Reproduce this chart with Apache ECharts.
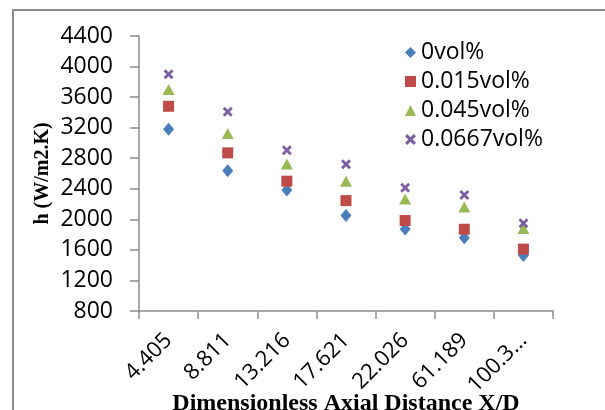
<!DOCTYPE html>
<html>
<head>
<meta charset="utf-8">
<script src="https://cdn.jsdelivr.net/npm/echarts@6/dist/echarts.min.js"></script>
<style>html,body{margin:0;padding:0;background:#fff;}#c{width:605px;height:410px;}</style>
</head>
<body>
<div id="c"></div>
<script>
var categories = ['4.405', '8.811', '13.216', '17.621', '22.026', '61.189', '100.3…'];
var seriesNames = ['0vol%', '0.015vol%', '0.045vol%', '0.0667vol%'];
var vol0 = [3180, 2635, 2385, 2050, 1875, 1760, 1525];
var vol015 = [3480, 2870, 2500, 2245, 1985, 1870, 1610];
var vol045 = [3700, 3125, 2725, 2500, 2265, 2160, 1880];
var vol0667 = [3900, 3410, 2905, 2720, 2415, 2320, 1950];
var yTicks = [800, 1200, 1600, 2000, 2400, 2800, 3200, 3600, 4000, 4400];

var crossPath = 'path://M0,2 L2,0 L5,3 L8,0 L10,2 L7,5 L10,8 L8,10 L5,7 L2,10 L0,8 L3,5 Z';
var colors = ['#4A7EBB', '#BE4B48', '#98B954', '#7D5FA0'];
var symbols = ['diamond', 'rect', 'triangle', crossPath];
var sizes = [[11, 13], [11, 11], [12, 11], [10, 10]];
var dataSets = [vol0, vol015, vol045, vol0667];

var chart = echarts.init(document.getElementById('c'), null, {renderer: 'canvas'});
var series = seriesNames.map(function (n, i) {
  return {
    name: n,
    type: 'scatter',
    data: dataSets[i],
    symbol: symbols[i],
    symbolSize: sizes[i],
    itemStyle: {color: colors[i], opacity: 1},
    emphasis: {disabled: true}
  };
});

chart.setOption({
  animation: false,
  backgroundColor: '#fff',
  textStyle: {fontFamily: 'Open Sans'},
  graphic: [{
    type: 'rect',
    shape: {x: 13, y: 10, width: 620, height: 420},
    style: {fill: 'none', stroke: '#8c8c8c', lineWidth: 2},
    silent: true
  }],
  grid: {left: 139, top: 36, right: 52, bottom: 99, containLabel: false, outerBoundsMode: 'none'},
  legend: {
    orient: 'vertical',
    left: 400,
    top: 36,
    itemWidth: 11,
    itemHeight: 11,
    itemGap: 6,
    textStyle: {fontFamily: 'Open Sans', fontSize: 23, color: '#000', lineHeight: 23},
    data: seriesNames.map(function (n, i) {
      return {name: n, icon: symbols[i]};
    })
  },
  xAxis: {
    type: 'category',
    data: categories,
    name: 'Dimensionless Axial Distance X/D',
    nameLocation: 'middle',
    nameGap: 81,
    nameMoveOverlap: false,
    nameTextStyle: {fontFamily: 'Liberation Serif', fontWeight: 'bold', fontSize: 24, color: '#000', verticalAlign: 'top'},
    axisLine: {lineStyle: {color: '#8c8c8c', width: 1.5}},
    axisTick: {show: true, length: 8, alignWithLabel: false, lineStyle: {color: '#8c8c8c', width: 1.5}},
    axisLabel: {rotate: 45, fontSize: 22, color: '#000', margin: 26, interval: 0, fontFamily: 'Open Sans'},
    splitLine: {show: false}
  },
  yAxis: {
    type: 'value',
    min: yTicks[0],
    max: yTicks[yTicks.length - 1],
    interval: 400,
    name: 'h (W/m2.K)',
    nameLocation: 'middle',
    nameRotate: 90,
    nameGap: 86,
    nameMoveOverlap: false,
    nameTextStyle: {fontFamily: 'Liberation Serif', fontWeight: 'bold', fontSize: 20, color: '#000'},
    axisLine: {show: true, lineStyle: {color: '#8c8c8c', width: 1.5}},
    axisTick: {show: true, length: 9, lineStyle: {color: '#8c8c8c', width: 1.5}},
    axisLabel: {fontSize: 23, color: '#000', margin: 26, fontFamily: 'Open Sans', formatter: function (v) { return String(v); }},
    splitLine: {show: false}
  },
  series: series
});
</script>
</body>
</html>
